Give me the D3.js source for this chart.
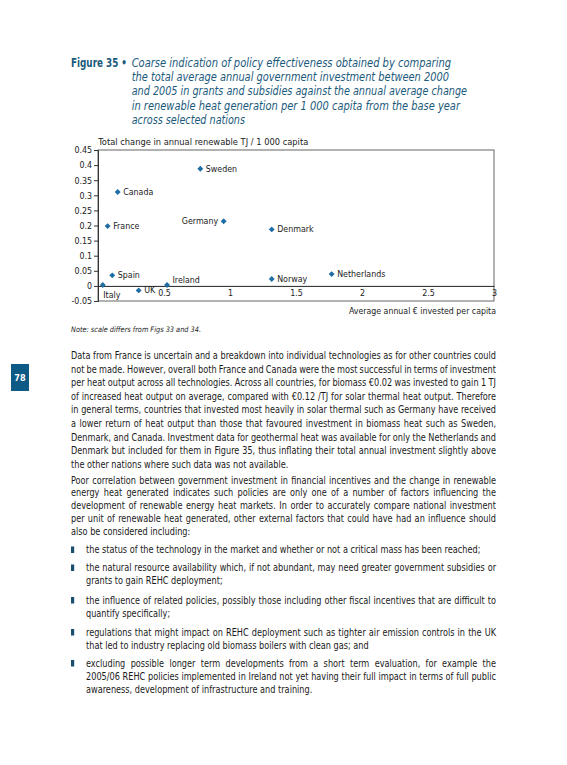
<!DOCTYPE html>
<html><head><meta charset="utf-8">
<script src="https://cdn.jsdelivr.net/npm/d3@7"></script>
<style>
html,body{margin:0;padding:0;background:#fff;}
svg{display:block;}
text{font-family:"DejaVu Sans Condensed","DejaVu Sans",sans-serif;}
</style></head>
<body>
<script>
// ---- data ----
const countries = ["Italy","Spain","France","Canada","UK","Ireland","Sweden","Germany","Denmark","Norway","Netherlands"];
const investment = [0.036,0.108,0.073,0.149,0.308,0.523,0.775,0.952,1.316,1.316,1.77];
const heatChange = [0.003,0.035,0.198,0.311,-0.015,0.003,0.388,0.214,0.187,0.023,0.039];
const labelSide = ["below","right","right","right","right","upright","right","left","right","right","right"];
const xTicks = [0.5,1,1.5,2,2.5,3];
const yTicks = [-0.05,0,0.05,0.1,0.15,0.2,0.25,0.3,0.35,0.4,0.45];
const yTickLabels = ["-0.05","0","0.05","0.1","0.15","0.2","0.25","0.3","0.35","0.4","0.45"];
const titleLines = [
 "Coarse indication of policy effectiveness obtained by comparing",
 "the total average annual government investment between 2000",
 "and 2005 in grants and subsidies against the annual average change",
 "in renewable heat generation per 1 000 capita from the base year",
 "across selected nations"];
const titleEnds = [451,449,467,460,245];

const W=567,H=765;
const svg=d3.select("body").append("svg").attr("width",W).attr("height",H);

// ---- title ----
svg.append("text").attr("x",71).attr("y",66.5).attr("font-size",11.5).attr("font-weight","bold")
  .attr("fill","#1b5a7c").attr("textLength",56).attr("lengthAdjust","spacingAndGlyphs").text("Figure 35 •");
titleLines.forEach((t,i)=>{
  svg.append("text").attr("x",131.7).attr("y",66.5+14.4*i).attr("font-size",11.8).attr("font-style","italic")
    .attr("fill","#1b5a7c").attr("textLength",titleEnds[i]-131.7).attr("lengthAdjust","spacingAndGlyphs").text(t);
});

// ---- chart ----
const x=d3.scaleLinear().domain([0,3]).range([98,494]);
const y=d3.scaleLinear().domain([-0.05,0.45]).range([301,150]);
const g=svg.append("g");
g.append("rect").attr("x",x(0)).attr("y",y(0.45)).attr("width",x(3)-x(0)).attr("height",y(-0.05)-y(0.45))
  .attr("fill","none").attr("stroke","#555").attr("stroke-width",0.9);
const yAxis=d3.axisLeft(y).tickValues(yTicks).tickSize(4).tickPadding(2).tickFormat((d,i)=>yTickLabels[i]);
const ya=g.append("g").attr("transform",`translate(${x(0)},0)`).call(yAxis);
ya.select(".domain").attr("stroke","#333");
ya.selectAll(".tick line").attr("stroke","#333");
ya.selectAll(".tick text").attr("font-size",8.8).attr("fill","#222").attr("font-family","DejaVu Sans Condensed");
const xAxis=d3.axisBottom(x).tickValues(xTicks).tickSize(0).tickPadding(3.5).tickFormat(d=>String(d));
const xa=g.append("g").attr("transform",`translate(0,${y(0)})`).call(xAxis);
xa.select(".domain").attr("stroke","#222");
xa.selectAll(".tick text").attr("font-size",8.8).attr("fill","#222").attr("font-family","DejaVu Sans Condensed");
g.append("text").attr("x",98.3).attr("y",144.8).attr("font-size",8.8).attr("fill","#222")
  .attr("textLength",210).attr("lengthAdjust","spacingAndGlyphs").text("Total change in annual renewable TJ / 1 000 capita");
g.append("text").attr("x",496).attr("y",314).attr("font-size",8.8).attr("fill","#222").attr("text-anchor","end")
  .attr("textLength",147).attr("lengthAdjust","spacingAndGlyphs").text("Average annual € invested per capita");
const pts=countries.map((c,i)=>({c,xv:investment[i],yv:heatChange[i],side:labelSide[i]}));
g.selectAll("path.pt").data(pts).join("path").attr("class","pt")
  .attr("d",d3.symbol(d3.symbolDiamond2,22))
  .attr("transform",d=>`translate(${x(d.xv)},${y(d.yv)})`).attr("fill","#1f6ea3");
g.selectAll("text.lab").data(pts).join("text").attr("class","lab")
  .attr("font-size",8.8).attr("fill","#222")
  .attr("x",d=>x(d.xv)+(d.side==="left"?-5.5:d.side==="below"?0.5:5.5))
  .attr("y",d=>y(d.yv)+(d.side==="below"?13:d.side==="upright"?-2:3))
  .attr("text-anchor",d=>d.side==="left"?"end":"start")
  .text(d=>d.c);
svg.append("text").attr("x",71).attr("y",331.8).attr("font-size",7.5).attr("font-style","italic").attr("fill","#222")
  .attr("textLength",130).attr("lengthAdjust","spacingAndGlyphs").text("Note: scale differs from Figs 33 and 34.");

// ---- page number ----
svg.append("rect").attr("x",11).attr("y",364).attr("width",18).attr("height",27).attr("fill","#0e5a86");
svg.append("text").attr("x",20).attr("y",381).attr("font-size",9).attr("font-weight","bold").attr("fill","#fff")
  .attr("text-anchor","middle").text("78");

// ---- body text ----
const FS=10;
const blocks=[
 {x0:71,lines:[
  ["Data from France is uncertain and a breakdown into individual technologies as for other countries could",355.5,"J"],
  ["not be made. However, overall both France and Canada were the most successful in terms of investment",369.1,"J"],
  ["per heat output across all technologies. Across all countries, for biomass €0.02 was invested to gain 1 TJ",382.7,"J"],
  ["of increased heat output on average, compared with €0.12 /TJ for solar thermal heat output. Therefore",396.3,"J"],
  ["in general terms, countries that invested most heavily in solar thermal such as Germany have received",409.9,"J"],
  ["a lower return of heat output than those that favoured investment in biomass heat such as Sweden,",423.5,"J"],
  ["Denmark, and Canada. Investment data for geothermal heat was available for only the Netherlands and",437.1,"J"],
  ["Denmark but included for them in Figure 35, thus inflating their total annual investment slightly above",450.7,"J"],
  ["the other nations where such data was not available.",464.3,293]]},
 {x0:71,lines:[
  ["Poor correlation between government investment in financial incentives and the change in renewable",480,"J"],
  ["energy heat generated indicates such policies are only one of a number of factors influencing the",492.8,"J"],
  ["development of renewable energy heat markets. In order to accurately compare national investment",505.6,"J"],
  ["per unit of renewable heat generated, other external factors that could have had an influence should",518.4,"J"],
  ["also be considered including:",531.2,188]]},
 {x0:86,bullet:true,lines:[["the status of the technology in the market and whether or not a critical mass has been reached;",549.5,482]]},
 {x0:86,bullet:true,lines:[
  ["the natural resource availability which, if not abundant, may need greater government subsidies or",567.5,"J"],
  ["grants to gain REHC deployment;",580.5,212]]},
 {x0:86,bullet:true,lines:[
  ["the influence of related policies, possibly those including other fiscal incentives that are difficult to",600,"J"],
  ["quantify specifically;",613,176]]},
 {x0:86,bullet:true,lines:[
  ["regulations that might impact on REHC deployment such as tighter air emission controls in the UK",632,"J"],
  ["that led to industry replacing old biomass boilers with clean gas; and",645,369]]},
 {x0:86,bullet:true,lines:[
  ["excluding possible longer term developments from a short term evaluation, for example the",663,"J"],
  ["2005/06 REHC policies implemented in Ireland not yet having their full impact in terms of full public",676,"J"],
  ["awareness, development of infrastructure and training.",689,312]]}
];
const RIGHT=496;
const tmp=svg.append("text").attr("font-size",FS);
let ratios=[];
blocks.forEach(b=>b.lines.forEach(l=>{ if(l[2]!=="J"){ tmp.text(l[0]); ratios.push((l[2]-b.x0)/tmp.node().getComputedTextLength()); }}));
const k=d3.median(ratios);
tmp.remove();
blocks.forEach(b=>{
  if(b.bullet){
    svg.append("rect").attr("x",71).attr("y",b.lines[0][1]-3).attr("width",3.2).attr("height",6.5).attr("fill","#1b4f72");
  }
  b.lines.forEach(l=>{
    const t=svg.append("text").attr("font-size",FS).attr("fill","#1a1a1a")
      .attr("transform",`translate(${b.x0},${l[1]+3.5}) scale(${k},1)`).text(l[0]);
    if(l[2]==="J"){
      const w0=t.node().getComputedTextLength();
      const n=(l[0].match(/ /g)||[]).length;
      const ws=((RIGHT-b.x0)/k-w0)/n;
      t.style("word-spacing",ws+"px");
    }
  });
});
</script>
</body></html>
